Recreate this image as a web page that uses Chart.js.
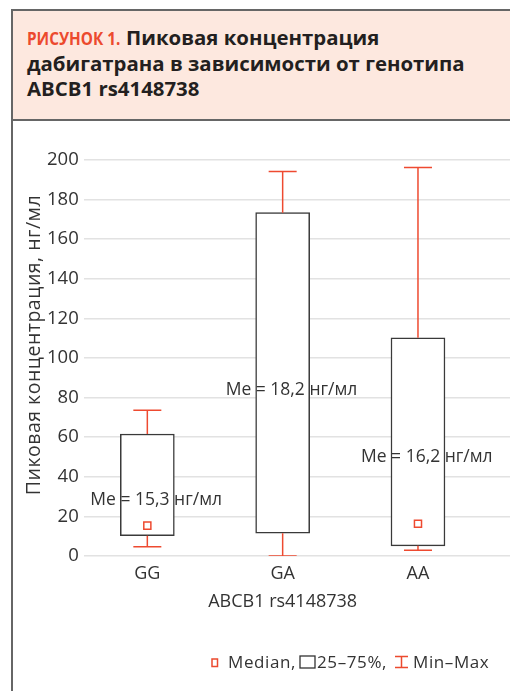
<!DOCTYPE html>
<html>
<head>
<meta charset="utf-8">
<script src="https://cdn.jsdelivr.net/npm/chart.js@4.4.1/dist/chart.umd.min.js"></script>
<style>
html, body { margin: 0; padding: 0; background: #fff; }
body { width: 510px; height: 691px; position: relative; overflow: hidden; font-family: "Open Sans", sans-serif; }
#frame { position: absolute; left: 11px; top: 9px; width: 530px; height: 720px; border: 2px solid #666; box-sizing: border-box; }
#head { position: absolute; left: 13px; top: 11px; width: 520px; height: 108px; background: #fde8df; border-bottom: 2px solid #666; }
#title { position: absolute; left: 27px; top: 25px; font-weight: 700; font-size: 20.4px; line-height: 25px; color: #231f20; }
#title .fig { display: inline-block; color: #ec4a2e; font-size: 17px; transform: scaleX(0.9); transform-origin: left center; margin-right: -10px; }
#wrap { position: absolute; left: 0; top: 121px; width: 510px; height: 570px; }
.lg { position: absolute; top: 651px; font-size: 17px; line-height: 22px; letter-spacing: 0.6px; color: #333; white-space: nowrap; }
.sym { position: absolute; }
</style>
</head>
<body>
<div id="frame"></div>
<div id="head"></div>
<div id="title"><span class="fig">РИСУНОК 1.</span> Пиковая концентрация<br>дабигатрана в зависимости от генотипа<br>ABCB1 rs4148738</div>
<div id="wrap"><canvas id="boxChart" width="510" height="570"></canvas></div>

<svg class="sym" style="left:211px;top:658px" width="8" height="10"><rect x="1" y="1" width="5.5" height="7.5" fill="#fff" stroke="#ec4a2e" stroke-width="1.5"/></svg>
<span class="lg" style="left:228px">Median,</span>
<svg class="sym" style="left:299px;top:655px" width="18" height="14"><rect x="1" y="1" width="15" height="12" fill="#fff" stroke="#333" stroke-width="1.3"/></svg>
<span class="lg" style="left:317px">25–75%,</span>
<svg class="sym" style="left:394px;top:655px" width="16" height="14"><path d="M1 1.5H14M7.5 1.5V12.5M1 12.5H14" stroke="#ec4a2e" stroke-width="1.5" fill="none"/></svg>
<span class="lg" style="left:413px">Min–Max</span>

<script>
// genotype groups and the box statistics, ng/ml
const categories = ['GG', 'GA', 'AA'];
const minValues = [4.6, 0, 2.8];
const q1Values = [10.2, 11.5, 5.1];
const q3Values = [61.6, 173.4, 110.2];
const maxValues = [73.6, 194.2, 196.2];
const medians = [15.3, 18.2, 16.2];
const medianMarked = [true, false, true];
const yTicks = [0, 20, 40, 60, 80, 100, 120, 140, 160, 180, 200];

const RED = '#ee4a30';
const INK = '#333';
const FONT = '"Open Sans", sans-serif';

const boxes = categories.map((c, i) => ({ x: i, y: [q1Values[i], q3Values[i]] }));

const whiskers = [];
categories.forEach((c, i) => {
  whiskers.push({ x: i, y: minValues[i] }, { x: i, y: q1Values[i] }, { x: i, y: null });
  whiskers.push({ x: i, y: q3Values[i] }, { x: i, y: maxValues[i] }, { x: i, y: null });
});

const caps = [];
categories.forEach((c, i) => {
  caps.push({ x: i, y: minValues[i] }, { x: i, y: maxValues[i] });
});

const medianPoints = categories
  .map((c, i) => ({ x: i, y: medians[i] }))
  .filter((p, i) => medianMarked[i]);

// "Me = ..." captions, y in axis units
const captionAt = [28, 84, 50];

const captions = {
  id: 'captions',
  afterDatasetsDraw(chart) {
    const ctx = chart.ctx;
    const xs = chart.scales.x, ys = chart.scales.y;
    ctx.save();
    ctx.fillStyle = INK;
    ctx.font = '17.5px ' + FONT;
    ctx.textBaseline = 'middle';
    ctx.textAlign = 'left';
    medians.forEach((m, i) => {
      const txt = 'Me = ' + String(m).replace('.', ',') + ' нг/мл';
      ctx.fillText(txt, xs.getPixelForValue(i) - 57, ys.getPixelForValue(captionAt[i]));
    });
    // axis names
    ctx.textAlign = 'center';
    ctx.font = '18px ' + FONT;
    ctx.fillText('ABCB1 rs4148738', xs.getPixelForValue(1), ys.bottom + 46);
    ctx.translate(34, ys.getPixelForValue(106.5));
    ctx.rotate(-Math.PI / 2);
    ctx.font = '19.5px ' + FONT;
    ctx.letterSpacing = '0.5px';
    ctx.fillText('Пиковая концентрация, нг/мл', 0, 0);
    ctx.restore();
  }
};

new Chart(document.getElementById('boxChart'), {
  type: 'bar',
  data: {
    datasets: [
      {
        type: 'bar',
        data: boxes,
        backgroundColor: '#fff',
        borderColor: '#3a3a3a',
        borderWidth: 1.5,
        borderSkipped: false,
        barThickness: 54,
        order: 3
      },
      {
        type: 'line',
        data: whiskers,
        borderColor: RED,
        borderWidth: 1.5,
        pointRadius: 0,
        spanGaps: false,
        order: 2
      },
      {
        type: 'scatter',
        data: caps,
        pointStyle: 'line',
        pointRadius: 14,
        borderColor: RED,
        borderWidth: 1.5,
        order: 1
      },
      {
        type: 'scatter',
        data: medianPoints,
        pointStyle: 'rect',
        pointRadius: 5,
        backgroundColor: '#fff',
        borderColor: RED,
        borderWidth: 1.5,
        order: 0
      }
    ]
  },
  plugins: [captions],
  options: {
    responsive: false,
    animation: false,
    layout: { autoPadding: false, padding: { left: 42, right: 0, top: 39, bottom: 99.5 } },
    plugins: { legend: { display: false }, tooltip: { enabled: false } },
    scales: {
      x: {
        type: 'linear',
        offset: false,
        min: -0.47,
        max: 2.68,
        afterBuildTicks: (scale) => { scale.ticks = categories.map((c, i) => ({ value: i })); },
        afterFit: (scale) => { scale.paddingLeft = 0; scale.paddingRight = 0; },
        ticks: { callback: (v) => categories[v], color: INK, font: { family: FONT, size: 18 }, padding: 7, maxRotation: 0 },
        grid: { display: false, drawTicks: false },
        border: { display: false }
      },
      y: {
        min: 0,
        max: 200,
        afterBuildTicks: (scale) => { scale.ticks = yTicks.map(v => ({ value: v })); },
        ticks: { color: INK, font: { family: FONT, size: 18.5 }, padding: 5 },
        grid: { color: '#e2e2e2', lineWidth: 1.5, drawTicks: false },
        border: { display: false }
      }
    }
  }
});
</script>
</body>
</html>
